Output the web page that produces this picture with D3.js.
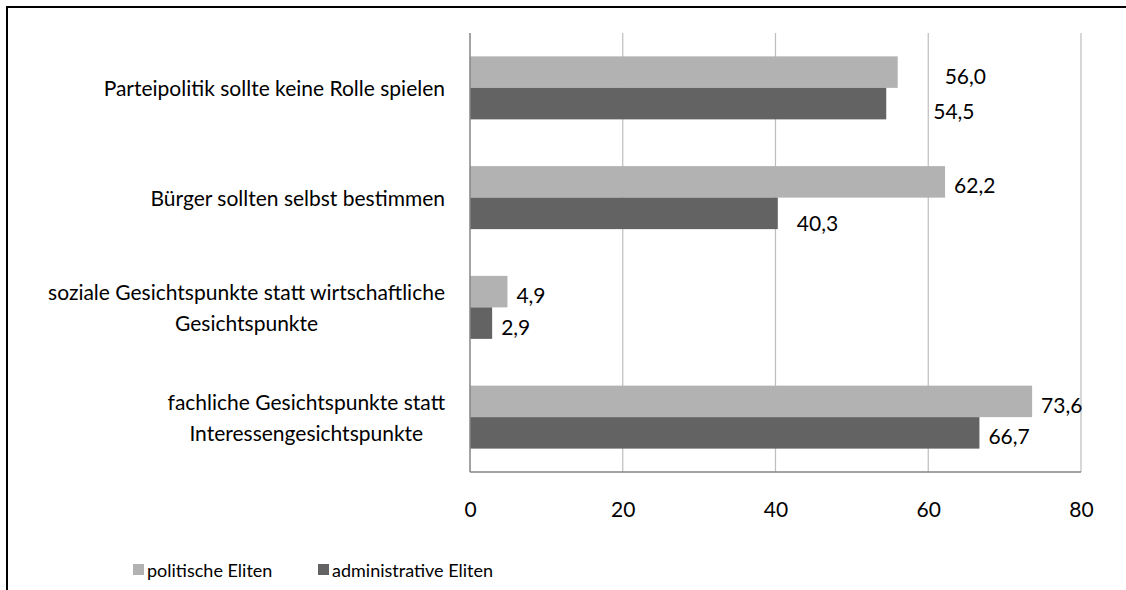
<!DOCTYPE html>
<html>
<head>
<meta charset="utf-8">
<script src="https://cdn.jsdelivr.net/npm/d3@7"></script>
<style>
  html, body { margin: 0; padding: 0; background: #fff; }
  svg { display: block; }
  text { font-family: Lato, "Open Sans", sans-serif; fill: #000; }
</style>
</head>
<body>
<svg id="chart" width="1126" height="590"></svg>
<script>
// Zustimmung in Prozent, je Aussage
const categories = [
  ["Parteipolitik sollte keine Rolle spielen"],
  ["Bürger sollten selbst bestimmen"],
  ["soziale Gesichtspunkte statt wirtschaftliche", "Gesichtspunkte"],
  ["fachliche Gesichtspunkte statt", "Interessengesichtspunkte"]
];
const seriesNames = ["politische Eliten", "administrative Eliten"];
const politischeEliten = [56.0, 62.2, 4.9, 73.6];
const administrativeEliten = [54.5, 40.3, 2.9, 66.7];
const xTicks = [0, 20, 40, 60, 80];

const colors = ["#b2b2b2", "#636363"];
const fmt = v => v.toFixed(1).replace(".", ",");
const FS = 21;

const svg = d3.select("#chart");
const W = 1126, H = 590;
const plot = { left: 470, right: 1081, top: 33, bottom: 472 };

// outer frame (top and left edges visible)
svg.append("path")
  .attr("d", `M7,${H} V7 H${W}`)
  .attr("fill", "none").attr("stroke", "#000").attr("stroke-width", 2);

const x = d3.scaleLinear().domain([0, 80]).range([plot.left, plot.right]);
const catKeys = categories.map((c, i) => i);
const y = d3.scaleBand().domain(catKeys).range([plot.top, plot.bottom])
  .paddingInner(0.426).paddingOuter(0.213);
const ySub = d3.scaleBand().domain([0, 1]).range([0, y.bandwidth()]);

// vertical gridlines
svg.append("g").selectAll("line")
  .data(xTicks.filter(t => t > 0)).join("line")
  .attr("x1", d => x(d)).attr("x2", d => x(d))
  .attr("y1", plot.top).attr("y2", plot.bottom)
  .attr("stroke", "#bdbdbd").attr("stroke-width", 1.2);

// bars
const values = [politischeEliten, administrativeEliten];
values.forEach((vals, s) => {
  svg.append("g").selectAll("rect")
    .data(vals).join("rect")
    .attr("x", x(0))
    .attr("y", (d, i) => y(i) + ySub(s))
    .attr("width", d => x(d) - x(0))
    .attr("height", ySub.bandwidth())
    .attr("fill", colors[s]);
});

// axis lines
svg.append("line")
  .attr("x1", x(0)).attr("x2", x(0)).attr("y1", plot.top).attr("y2", plot.bottom)
  .attr("stroke", "#858585").attr("stroke-width", 1.5);
svg.append("line")
  .attr("x1", x(0)).attr("x2", x(80)).attr("y1", plot.bottom).attr("y2", plot.bottom)
  .attr("stroke", "#858585").attr("stroke-width", 1.5);

// x axis labels
const xAxis = d3.axisBottom(x).tickValues(xTicks).tickSize(0).tickPadding(0)
  .tickFormat(d3.format("d"));
const gx = svg.append("g").attr("transform", `translate(0,${plot.bottom})`).call(xAxis);
gx.select(".domain").remove();
gx.selectAll("text")
  .attr("font-size", FS).attr("font-family", "Lato, sans-serif").attr("fill", "#000")
  .attr("y", 36).attr("dy", null).attr("dominant-baseline", "central");

// category labels: block right-aligned, lines centred within block
const labelRight = 445, lineH = 31;
categories.forEach((lines, i) => {
  const g = svg.append("g");
  const cy = y(i) + y.bandwidth() / 2;
  const texts = lines.map((ln, k) => g.append("text")
    .attr("font-size", FS)
    .attr("text-anchor", "middle")
    .attr("dominant-baseline", "central")
    .attr("y", cy + (k - (lines.length - 1) / 2) * lineH)
    .text(ln));
  const wMax = d3.max(texts, t => t.node().getComputedTextLength());
  texts.forEach(t => t.attr("x", labelRight - wMax / 2));
});

// value labels, a few shifted clear of the gridlines
const labelShift = {
  "0-0": [38, 0], "1-0": [38, 4], "1-1": [10, 6]
};
values.forEach((vals, s) => {
  svg.append("g").selectAll("text")
    .data(vals).join("text")
    .attr("font-size", FS)
    .attr("dominant-baseline", "central")
    .attr("x", (d, i) => x(d) + 9 + ((labelShift[`${s}-${i}`] || [0, 0])[0]))
    .attr("y", (d, i) => y(i) + ySub(s) + ySub.bandwidth() / 2 + 3 + ((labelShift[`${s}-${i}`] || [0, 0])[1]))
    .text(d => fmt(d));
});

// legend
const legendX = [133, 318];
seriesNames.forEach((name, s) => {
  svg.append("rect").attr("x", legendX[s]).attr("y", 564)
    .attr("width", 11).attr("height", 11).attr("fill", colors[s]);
  svg.append("text").attr("x", legendX[s] + 14).attr("y", 570)
    .attr("font-size", 18).attr("dominant-baseline", "central").text(name);
});
</script>
</body>
</html>
